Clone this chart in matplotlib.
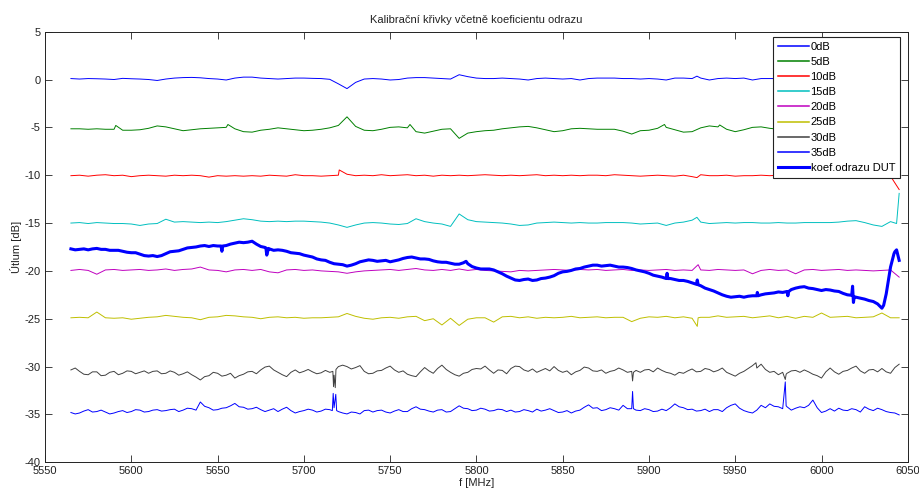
import numpy as np
import matplotlib
matplotlib.use("Agg")
import matplotlib.pyplot as plt

plt.rcParams['font.family'] = ['Liberation Sans', 'DejaVu Sans']
plt.rcParams['axes.unicode_minus'] = False

# Frequency grid of the sweep [MHz] and the half-step points in between
FREQ = np.arange(5565, 6046, 5)
FREQ_MID = FREQ[:-1] + 2.5

# Calibration curves [dB] on the 5 MHz grid
ATT_0 = [0.10, 0.05, 0.10, 0.08, 0.05, 0.00, 0.12, 0.08,
         0.05, 0.00, -0.10, 0.05, 0.15, 0.20, 0.22, 0.18,
         0.10, 0.05, -0.05, 0.15, 0.25, 0.25, 0.15, 0.10,
         0.05, 0.10, 0.15, 0.15, 0.12, 0.10, 0.02, -0.45,
         -0.95, -0.30, 0.05, 0.10, 0.05, -0.05, 0.00, 0.15,
         0.20, 0.20, 0.15, 0.10, 0.05, 0.50, 0.30, 0.15,
         0.10, 0.10, 0.15, 0.10, 0.05, -0.05, 0.10, 0.15,
         0.10, 0.05, 0.10, -0.05, 0.10, 0.15, 0.15, 0.15,
         0.10, 0.10, 0.05, 0.10, 0.05, -0.05, 0.15, 0.15,
         0.10, 0.15, -0.05, 0.10, 0.15, 0.10, 0.15, -0.05,
         0.10, 0.10, 0.10, 0.10, 0.15, 0.10, 0.10, 0.15,
         0.10, 0.15, 0.10, 0.10, 0.15, 0.10, 0.15, 0.10,
         0.15]
ATT_5 = [-5.15, -5.15, -5.20, -5.15, -5.20, -5.20, -5.30, -5.30,
         -5.25, -5.10, -4.85, -4.95, -5.15, -5.35, -5.25, -5.15,
         -5.10, -5.05, -5.00, -5.15, -5.45, -5.50, -5.30, -5.20,
         -5.05, -5.15, -5.25, -5.35, -5.30, -5.20, -5.05, -4.80,
         -3.90, -4.90, -5.30, -5.35, -5.20, -5.00, -4.95, -5.05,
         -5.45, -5.60, -5.40, -5.20, -5.15, -6.15, -5.60, -5.45,
         -5.35, -5.30, -5.15, -5.05, -4.95, -4.90, -5.05, -5.25,
         -5.45, -5.35, -5.15, -5.10, -5.15, -5.20, -5.20, -5.20,
         -5.40, -5.70, -5.35, -5.30, -5.10, -5.00, -5.25, -5.50,
         -5.45, -5.05, -4.85, -4.95, -5.20, -5.45, -5.25, -5.00,
         -4.95, -5.10, -5.20, -5.20, -5.15, -5.25, -5.20, -5.20,
         -5.15, -5.20, -5.25, -5.20, -5.15, -5.20, -5.25, -5.20,
         -5.20]
ATT_10 = [-10.05, -10.00, -10.10, -10.00, -9.95, -10.05, -10.00, -10.15,
          -10.05, -10.00, -10.05, -10.10, -10.00, -10.05, -10.00, -10.05,
          -10.20, -10.05, -10.10, -10.05, -10.10, -10.05, -10.10, -10.00,
          -10.05, -10.10, -9.95, -10.05, -10.05, -10.10, -10.05, -10.00,
          -9.90, -10.05, -10.00, -10.05, -9.95, -10.05, -10.00, -9.95,
          -10.05, -10.00, -10.10, -10.00, -10.05, -10.00, -10.05, -10.00,
          -9.95, -10.00, -10.05, -10.00, -10.05, -10.00, -9.95, -10.05,
          -10.00, -10.05, -10.00, -10.05, -10.00, -10.00, -10.05, -9.95,
          -10.00, -10.05, -10.10, -10.05, -10.00, -10.05, -10.10, -10.00,
          -10.15, -9.95, -10.05, -10.05, -10.00, -10.10, -10.05, -10.05,
          -10.00, -10.05, -10.00, -10.05, -10.00, -10.05, -10.00, -10.30,
          -10.05, -10.00, -10.05, -10.00, -10.05, -10.00, -10.05, -10.10,
          -11.50]
ATT_15 = [-15.00, -14.95, -15.05, -14.95, -15.00, -15.05, -15.05, -15.10,
          -15.25, -15.10, -15.05, -14.60, -14.90, -14.85, -14.90, -14.95,
          -14.90, -14.95, -14.85, -14.70, -14.55, -14.65, -14.80, -14.85,
          -14.80, -14.85, -14.80, -14.80, -14.85, -14.90, -15.00, -15.20,
          -15.45, -15.20, -15.00, -14.95, -15.00, -15.10, -15.15, -15.05,
          -14.55, -14.85, -15.00, -15.10, -15.35, -14.05, -14.65, -14.85,
          -14.90, -14.95, -15.00, -15.10, -15.25, -15.20, -15.00, -14.95,
          -14.90, -14.95, -15.00, -14.95, -15.00, -15.00, -14.95, -14.95,
          -14.95, -15.00, -15.10, -15.05, -15.00, -15.25, -15.00, -14.90,
          -14.70, -14.90, -15.05, -15.00, -14.95, -15.00, -14.95, -14.95,
          -15.00, -15.00, -14.95, -15.00, -15.00, -14.95, -14.95, -14.95,
          -14.95, -14.90, -14.80, -14.75, -14.95, -15.20, -15.35, -14.85,
          -11.90]
ATT_20 = [-19.95, -19.85, -19.95, -20.35, -19.90, -19.85, -19.95, -19.90,
          -19.85, -19.95, -19.90, -19.80, -19.95, -19.85, -19.80, -19.60,
          -19.90, -19.95, -20.10, -19.90, -19.85, -19.95, -19.85, -20.10,
          -20.20, -19.90, -19.85, -19.95, -19.90, -20.00, -20.05, -20.10,
          -20.25, -20.10, -20.00, -19.95, -19.90, -19.85, -19.95, -19.85,
          -19.75, -19.90, -19.95, -19.85, -19.95, -19.80, -19.95, -19.85,
          -19.95, -20.00, -20.05, -20.10, -19.95, -20.00, -19.95, -19.90,
          -19.85, -19.90, -19.95, -19.85, -19.90, -19.85, -19.95, -19.90,
          -19.85, -19.95, -19.90, -19.95, -19.90, -19.85, -19.95, -19.90,
          -19.95, -19.90, -19.95, -19.85, -19.90, -19.95, -19.90, -20.30,
          -19.95, -19.85, -19.95, -19.90, -20.30, -19.90, -19.85, -19.95,
          -19.90, -19.85, -19.95, -19.90, -19.95, -20.00, -19.95, -19.90,
          -20.65]
ATT_25 = [-24.90, -24.85, -24.90, -24.30, -24.90, -24.95, -24.90, -25.05,
          -24.95, -24.85, -24.80, -24.65, -24.75, -24.85, -24.90, -25.10,
          -24.85, -24.80, -24.65, -24.70, -24.80, -24.85, -25.00, -24.85,
          -24.80, -24.90, -24.85, -24.95, -24.90, -24.90, -24.85, -24.80,
          -24.45, -24.75, -24.95, -25.05, -24.90, -24.85, -24.95, -24.80,
          -24.75, -25.20, -25.00, -25.65, -24.95, -25.70, -25.05, -24.90,
          -24.90, -25.35, -24.80, -24.75, -24.90, -24.80, -24.95, -24.85,
          -24.90, -24.85, -24.75, -24.90, -24.85, -24.80, -24.90, -24.85,
          -24.85, -25.30, -24.95, -24.80, -24.85, -24.75, -24.90, -24.80,
          -24.95, -24.85, -24.85, -24.70, -24.85, -24.80, -24.75, -24.90,
          -24.80, -24.70, -24.90, -24.75, -24.95, -24.75, -24.85, -24.40,
          -24.85, -24.80, -24.75, -24.90, -24.85, -24.80, -24.40, -24.90,
          -24.90]
ATT_30 = [-30.35, -30.50, -30.85, -30.55, -30.90, -30.50, -30.70, -30.50,
          -30.60, -30.70, -30.45, -30.70, -30.60, -30.75, -30.85, -31.40,
          -30.95, -30.70, -30.90, -31.20, -30.80, -30.50, -30.35, -29.95,
          -30.60, -31.05, -30.35, -30.50, -30.55, -30.65, -30.60, -30.00,
          -30.00, -30.10, -30.50, -30.70, -30.40, -29.95, -30.60, -30.80,
          -31.05, -30.10, -30.70, -29.85, -30.60, -31.00, -30.60, -30.20,
          -29.95, -30.70, -30.40, -30.20, -30.00, -30.50, -30.60, -30.20,
          -30.00, -30.60, -30.85, -30.40, -30.15, -30.50, -30.70, -30.40,
          -30.35, -30.50, -30.60, -30.30, -30.15, -30.60, -30.90, -30.70,
          -30.25, -30.50, -30.30, -30.40, -30.60, -31.00, -30.50, -29.90,
          -29.75, -30.60, -30.85, -30.70, -30.40, -30.35, -30.80, -31.20,
          -30.15, -30.80, -30.40, -29.95, -30.70, -30.30, -30.20, -30.70,
          -29.75]
ATT_30_MID = [-30.15, -30.80, -30.55, -30.95, -30.60, -30.85, -30.45, -30.75,
              -30.45, -30.50, -30.75, -30.45, -30.90, -30.55, -31.10, -31.05,
              -30.60, -31.00, -30.70, -30.95, -30.55, -30.75, -30.05, -30.35,
              -30.85, -30.60, -30.65, -30.30, -30.75, -30.40, -30.90, -29.85,
              -30.25, -29.90, -30.75, -30.45, -30.15, -30.35, -30.45, -30.95,
              -30.55, -30.45, -30.20, -30.30, -30.85, -30.70, -30.30, -30.25,
              -30.35, -30.35, -30.75, -29.95, -30.35, -30.25, -30.40, -30.45,
              -30.40, -30.45, -30.55, -30.05, -30.45, -30.35, -30.50, -30.15,
              -30.60, -30.40, -30.35, -30.55, -30.40, -30.70, -30.60, -30.45,
              -30.55, -30.20, -30.55, -30.15, -30.80, -30.70, -30.20, -30.15,
              -30.30, -30.50, -30.60, -30.45, -30.60, -30.55, -30.95, -30.55,
              -30.55, -30.50, -30.15, -30.45, -30.35, -30.55, -30.55, -30.10]
ATT_35 = [-34.80, -34.85, -34.50, -34.70, -34.75, -34.85, -34.60, -34.70,
          -34.55, -34.70, -34.50, -34.60, -34.45, -34.55, -34.40, -33.70,
          -34.30, -34.50, -34.30, -33.85, -34.25, -34.40, -34.50, -34.55,
          -34.70, -34.25, -34.85, -34.60, -34.55, -34.65, -34.50, -34.70,
          -34.95, -34.80, -34.60, -34.75, -34.55, -34.85, -34.50, -34.70,
          -34.20, -34.50, -34.75, -34.50, -34.70, -34.10, -34.40, -34.55,
          -34.45, -34.60, -34.50, -34.55, -34.70, -34.60, -34.45, -34.55,
          -34.60, -34.75, -34.85, -34.55, -34.00, -34.30, -34.50, -34.40,
          -34.05, -34.40, -34.60, -34.50, -34.65, -34.60, -33.90, -34.30,
          -34.45, -34.60, -34.70, -34.50, -34.30, -33.90, -34.60, -34.85,
          -34.05, -33.90, -34.20, -34.20, -34.35, -34.30, -33.50, -34.80,
          -34.40, -34.35, -34.60, -34.50, -34.20, -34.60, -34.50, -34.80,
          -35.05]
ATT_35_MID = [-34.95, -34.65, -34.75, -34.55, -34.95, -34.70, -34.80, -34.50,
              -34.75, -34.55, -34.65, -34.50, -34.70, -34.35, -34.55, -34.15,
              -34.55, -34.35, -34.10, -34.20, -34.45, -34.25, -34.70, -34.40,
              -34.45, -34.60, -34.70, -34.45, -34.75, -34.45, -34.30, -34.85,
              -34.75, -34.95, -34.55, -34.60, -34.75, -34.65, -34.70, -34.40,
              -34.45, -34.65, -34.55, -34.75, -34.40, -34.35, -34.60, -34.35,
              -34.65, -34.45, -34.70, -34.75, -34.50, -34.75, -34.65, -34.40,
              -34.80, -34.60, -34.65, -34.25, -34.35, -34.60, -34.30, -34.55,
              -34.40, -34.55, -34.40, -34.70, -34.45, -34.30, -34.20, -34.50,
              -34.65, -34.45, -34.50, -34.70, -34.05, -34.35, -34.75, -34.55,
              -34.30, -34.15, -34.40, -34.55, -34.20, -34.05, -34.30, -34.65,
              -34.65, -34.55, -34.40, -34.75, -34.45, -34.35, -34.70, -34.85]

# Reflection coefficient of the device under test [dB]
DUT = [-17.70, -17.75, -17.80, -17.65, -17.75, -17.85, -17.95, -18.10,
       -18.25, -18.45, -18.50, -18.20, -17.95, -17.75, -17.55, -17.40,
       -17.45, -17.40, -17.35, -17.10, -17.05, -16.90, -17.45, -17.70,
       -17.80, -17.95, -18.15, -18.35, -18.55, -18.85, -19.10, -19.30,
       -19.50, -19.25, -18.95, -18.90, -18.95, -19.05, -18.85, -18.60,
       -18.65, -18.75, -18.95, -19.10, -19.20, -19.30, -19.25, -19.70,
       -19.80, -19.90, -20.30, -20.75, -21.00, -20.85, -20.95, -20.75,
       -20.50, -20.10, -19.95, -19.75, -19.50, -19.40, -19.45, -19.50,
       -19.60, -19.75, -20.00, -20.25, -20.55, -20.80, -20.90, -21.00,
       -21.25, -21.55, -21.95, -22.30, -22.65, -22.70, -22.75, -22.60,
       -22.50, -22.35, -22.20, -22.15, -21.80, -21.65, -21.85, -22.05,
       -22.00, -22.15, -22.50, -22.75, -22.95, -23.20, -23.90, -19.60,
       -18.90]
DUT_MID = [-17.80, -17.70, -17.70, -17.75, -17.85, -17.85, -18.05, -18.10,
           -18.40, -18.40, -18.40, -18.00, -17.90, -17.60, -17.50, -17.35,
           -17.35, -17.95, -17.20, -17.00, -17.00, -17.20, -17.55, -17.85,
           -17.85, -18.10, -18.20, -18.45, -18.75, -18.90, -19.25, -19.35,
           -19.40, -19.05, -18.85, -19.00, -18.90, -18.95, -18.70, -18.55,
           -18.75, -18.80, -19.05, -19.10, -19.30, -19.15, -19.55, -19.80,
           -19.80, -20.10, -20.55, -20.95, -20.90, -21.00, -20.80, -20.65,
           -20.25, -20.05, -19.80, -19.60, -19.40, -19.50, -19.40, -19.60,
           -19.65, -19.90, -20.10, -20.45, -20.65, -20.80, -21.00, -21.10,
           -21.40, -21.80, -22.10, -22.50, -22.75, -22.65, -22.65, -22.60,
           -22.40, -22.30, -22.25, -21.95, -21.70, -21.80, -21.95, -21.95,
           -22.10, -22.35, -22.55, -22.85, -23.10, -23.45, -22.40, -18.00]

# Narrow spikes between the samples: (frequency [MHz], level [dB])
EXTRA_0 = [(5927.8, 0.35)]
EXTRA_5 = [(5591, -4.80), (5656, -4.70), (5761.5, -4.70), (5909, -4.70),
           (5941, -4.75)]
EXTRA_10 = [(5720.5, -9.45), (5927.8, -10.25)]
EXTRA_15 = [(5927.8, -14.40), (6043.5, -15.05)]
EXTRA_20 = [(5928.5, -19.35)]
EXTRA_25 = [(5928, -25.80), (5928.5, -24.90)]
EXTRA_30 = [(5716.8, -30.50), (5717.2, -32.10), (5718.2, -32.20),
            (5718.6, -30.30), (5890.5, -31.50), (5891, -30.60),
            (5962, -29.60), (5979, -31.35), (5979.5, -30.80)]
EXTRA_35 = [(5716.5, -34.60), (5717, -32.80), (5718.5, -32.90),
            (5719, -34.60), (5890.5, -32.60), (5891, -34.40),
            (5979, -31.60), (5979.5, -34.10)]
EXTRA_DUT = [(5652, -17.40), (5653, -17.40),
             (5678, -17.60), (5678.5, -18.35), (5679.5, -17.65),
             (5794, -19.00),
             (5910.5, -20.25), (5911, -20.80),
             (5928, -20.95), (5928.5, -21.45),
             (5962.8, -22.25), (5963.2, -22.60),
             (5980.5, -22.60), (5981, -22.15),
             (6018, -21.60), (6018.5, -23.30), (6019, -22.70),
             (6036, -23.60), (6042, -18.20), (6043.5, -17.80)]

LABELS = ['0dB', '5dB', '10dB', '15dB', '20dB', '25dB', '30dB', '35dB',
          'koef.odrazu DUT']


def trace(values, extra, mids=None):
    """Merge grid samples, optional half-step samples and spikes by frequency."""
    f = [FREQ]
    v = [np.asarray(values, float)]
    if mids is not None:
        f.append(FREQ_MID)
        v.append(np.asarray(mids, float))
    f.append(np.array([e[0] for e in extra], float))
    v.append(np.array([e[1] for e in extra], float))
    f = np.concatenate(f)
    v = np.concatenate(v)
    order = np.argsort(f, kind='stable')
    return f[order], v[order]


# classic MATLAB line colour order
COLORS = [(0, 0, 1), (0, 0.5, 0), (1, 0, 0), (0, 0.75, 0.75),
          (0.75, 0, 0.75), (0.75, 0.75, 0), (0.25, 0.25, 0.25), (0, 0, 1)]

curves = [(ATT_0, EXTRA_0, None), (ATT_5, EXTRA_5, None),
          (ATT_10, EXTRA_10, None), (ATT_15, EXTRA_15, None),
          (ATT_20, EXTRA_20, None), (ATT_25, EXTRA_25, None),
          (ATT_30, EXTRA_30, ATT_30_MID), (ATT_35, EXTRA_35, ATT_35_MID)]

fig = plt.figure(figsize=(9.19, 4.91), dpi=100)
ax = fig.add_axes([0.049, 0.0585, 0.9388, 0.877])

for (vals, extra, mids), color, label in zip(curves, COLORS, LABELS):
    f, v = trace(vals, extra, mids)
    ax.plot(f, v, color=color, lw=0.7, label=label)

f, v = trace(DUT, EXTRA_DUT, DUT_MID)
ax.plot(f, v, color=(0, 0, 1), lw=2.2, label=LABELS[-1])

ax.set_xlim(5550, 6050)
ax.set_ylim(-40, 5)
ax.set_xticks(np.arange(5550, 6051, 50))
ax.set_yticks(np.arange(-40, 6, 5))
ax.tick_params(direction='in', top=True, right=True, length=5, width=0.6,
               labelsize=8, pad=3, colors='#222222', labelcolor='#222222')
for s in ax.spines.values():
    s.set_linewidth(0.7)
    s.set_color('#222222')

ax.set_title('Kalibrační křivky včetně koeficientu odrazu', fontsize=8, pad=6,
             color='#222222')
ax.set_xlabel('f [MHz]', fontsize=8, labelpad=1, color='#222222')
ax.set_ylabel('Útlum [dB]', fontsize=8, labelpad=2, color='#222222')

leg = ax.legend(loc='upper right', bbox_to_anchor=(0.991, 0.988),
                borderaxespad=0, fontsize=8, handlelength=2.8,
                handletextpad=0.15, labelspacing=0.46, borderpad=0.45,
                fancybox=False, framealpha=1, edgecolor='#222222')
leg.get_frame().set_linewidth(0.8)
for line in leg.get_lines()[:-1]:
    line.set_linewidth(1.1)

fig.savefig('out.png', dpi=100, facecolor='white')
